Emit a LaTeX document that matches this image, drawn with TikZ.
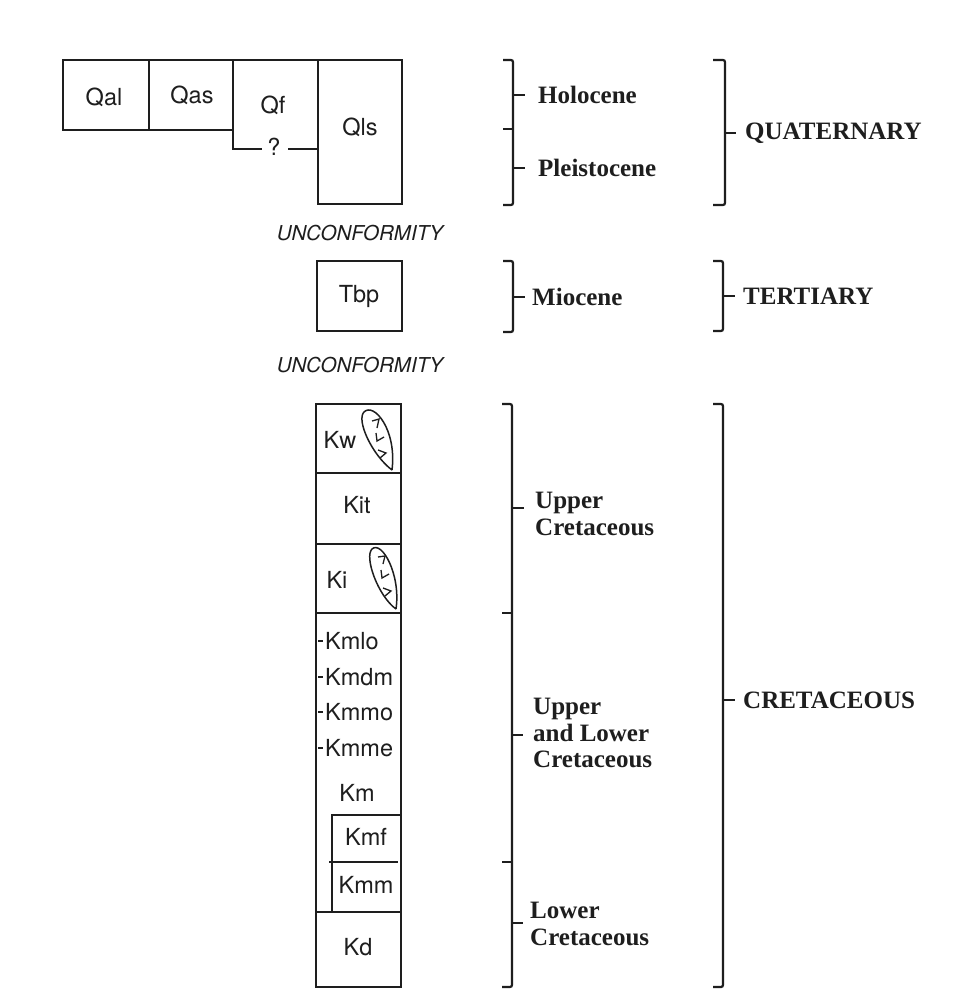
\documentclass[tikz,border=0pt]{standalone}
\usepackage{fontspec}
\setmainfont{Liberation Serif}
\newfontfamily\boxfont{TeX Gyre Heros}
\definecolor{ink}{HTML}{1E1E1E}
\begin{document}
\begin{tikzpicture}[x=1pt,y=-1pt,
  ln/.style={line width=2.1pt, draw=ink, line join=miter},
  brk/.style={line width=2.2pt, draw=ink, rounded corners=2pt},
  tk/.style={line width=2pt, draw=ink},
  unit/.style={font=\boxfont\fontsize{23.5}{26}\selectfont, text=ink, inner sep=0pt},
  age/.style={font=\bfseries\fontsize{25}{26.5}\selectfont, text=ink, anchor=west, align=left, inner sep=0pt},
  unc/.style={font=\boxfont\itshape\fontsize{20.5}{24}\selectfont, text=ink, inner sep=0pt},
  lens/.style={line width=1.5pt, draw=ink},
  mk/.style={line width=1.3pt, draw=ink}]
\useasboundingbox (0,0) rectangle (955,990);
\fill[white] (0,0) rectangle (955,990);

% ---------- Quaternary units ----------
\draw[ln] (63,60) rectangle (149,130);
\draw[ln] (149,60) rectangle (233,130);
\draw[ln] (233,60) -- (318,60);
\draw[ln] (233,60) -- (233,149) -- (262,149);
\draw[ln] (288,149) -- (318,149);
\draw[ln] (318,60) rectangle (402,204);
\node[unit] (qal) at (104,97) {Qal};
\node[unit] (qas) at (192,95) {Qas};
\node[unit] (qf) at (273,105) {Qf};
\node[unit] (qq) at (274,147) {?};
\node[unit] (qls) at (360,127) {Qls};

\node[unc] (unc1) at (360,233) {UNCONFORMITY};

% ---------- Tertiary ----------
\draw[ln] (317,261) rectangle (402,331);
\node[unit] (tbp) at (359,296) {Tbp};

\node[unc] (unc2) at (360,365) {UNCONFORMITY};

% ---------- Cretaceous column ----------
\draw[ln] (316,404) rectangle (401,987);
\draw[ln] (316,473) -- (401,473);
\draw[ln] (316,544) -- (401,544);
\draw[ln] (316,613) -- (401,613);
\draw[ln] (316,912) -- (401,912);
\draw[ln] (401,815) -- (332,815) -- (332,912);
\draw[ln] (329,862) -- (398,862);

\node[unit] (kw) at (340,440) {Kw};
\node[unit] (kit) at (357,505) {Kit};
\node[unit] (ki) at (337,580) {Ki};
\node[unit, anchor=west] (kmlo) at (325,641) {Kmlo};
\node[unit, anchor=west] (kmdm) at (325,677) {Kmdm};
\node[unit, anchor=west] (kmmo) at (325,712) {Kmmo};
\node[unit, anchor=west] (kmme) at (325,748) {Kmme};
\foreach \yy in {641,677,712,748} \draw[tk] (318,\yy) -- (323,\yy);
\node[unit] (km) at (357,793) {Km};
\node[unit] (kmf) at (366,837) {Kmf};
\node[unit] (kmm) at (366,885) {Kmm};
\node[unit] (kd) at (358,947) {Kd};

% lenses
\draw[lens] (392,470) .. controls (372,455) and (356,420) .. (364,412)
  .. controls (374,402) and (397,430) .. (392,470);
\draw[mk] (372,421) -- (379,419) -- (377,428);
\draw[mk] (376,433) -- (377,441) -- (384,437);
\draw[mk] (378,450) -- (386,453) -- (380,458);
\draw[lens] (396,609) .. controls (378,596) and (364,557) .. (372,549)
  .. controls (382,540) and (401,575) .. (396,609);
\draw[mk] (378,557) -- (385,556) -- (383,564);
\draw[mk] (381,570) -- (382,578) -- (389,574);
\draw[mk] (383,588) -- (391,591) -- (385,596);

% ---------- brackets: epochs ----------
\draw[brk] (503,60) -- (513,60) -- (513,205) -- (503,205);
\draw[tk] (503,129) -- (513,129);
\draw[tk] (513,95) -- (525,95);
\draw[tk] (513,168) -- (525,168);
\node[age] (holo) at (538,95) {Holocene};
\node[age] (pleis) at (538,168) {Pleistocene};

\draw[brk] (503,261) -- (513,261) -- (513,332) -- (503,332);
\draw[tk] (513,297) -- (525,297);
\node[age] (mio) at (532,297) {Miocene};

\draw[brk] (502,404) -- (512,404) -- (512,987) -- (502,987);
\draw[tk] (502,613) -- (512,613);
\draw[tk] (502,862) -- (512,862);
\draw[tk] (512,508) -- (524,508);
\draw[tk] (512,735) -- (523,735);
\draw[tk] (512,923) -- (523,923);
\node[age] (uc) at (535,514) {Upper\\Cretaceous};
\node[age] (ulc) at (533,733) {Upper\\and Lower\\Cretaceous};
\node[age] (lc) at (530,924) {Lower\\Cretaceous};

% ---------- brackets: periods ----------
\draw[brk] (713,60) -- (725,60) -- (725,205) -- (713,205);
\draw[tk] (725,133) -- (736,133);
\node[age] (quat) at (745,133) {QUATERNARY};

\draw[brk] (713,261) -- (723,261) -- (723,331) -- (713,331);
\draw[tk] (723,296) -- (735,296);
\node[age] (tert) at (743,296) {TERTIARY};

\draw[brk] (713,404) -- (723,404) -- (723,987) -- (713,987);
\draw[tk] (723,700) -- (735,700);
\node[age] (cret) at (743,700) {CRETACEOUS};
\end{tikzpicture}
\end{document}
